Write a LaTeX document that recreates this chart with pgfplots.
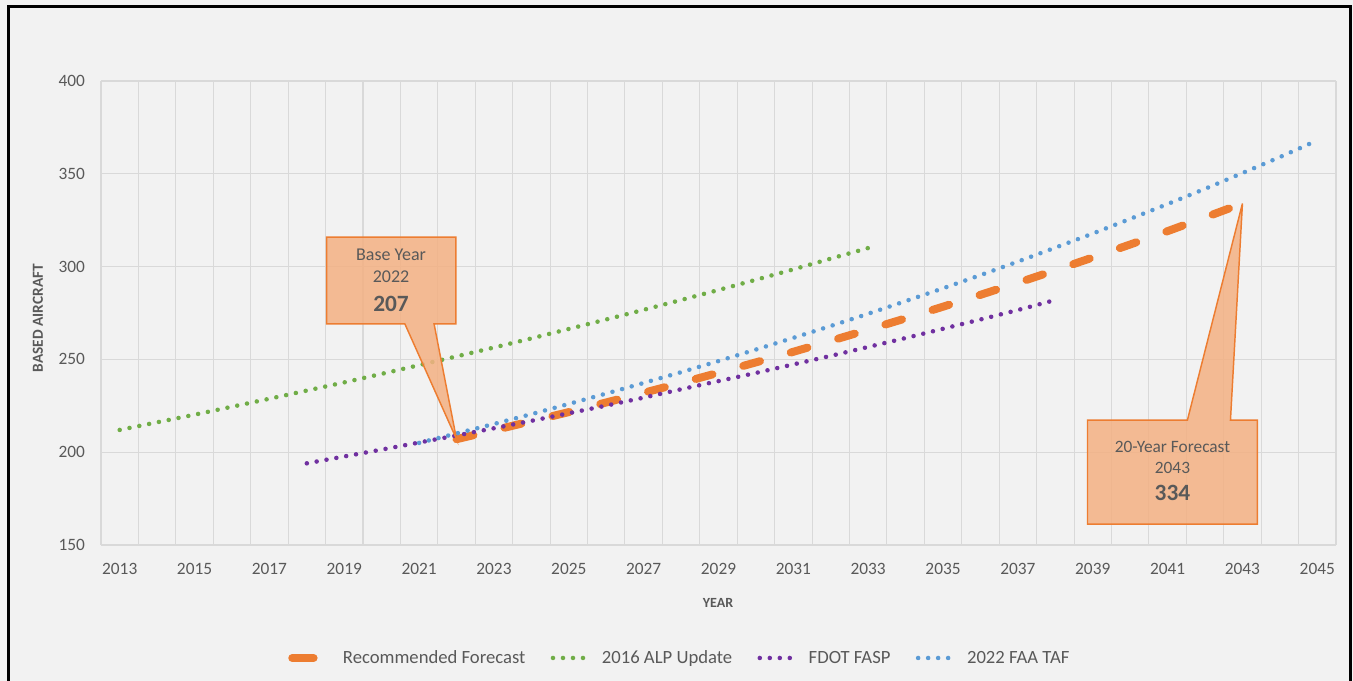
\documentclass[border=0pt]{standalone}
\usepackage{pgfplots}
\pgfplotsset{compat=1.18}
\usepackage{pgfplotstable}
\usepackage{fontspec}
\setmainfont{Carlito}
\definecolor{bgcol}{HTML}{F2F2F2}
\definecolor{gridcol}{HTML}{D9D9D9}
\definecolor{txtgray}{HTML}{595959}
\definecolor{corange}{HTML}{ED7D31}
\definecolor{cgreen}{HTML}{70AD47}
\definecolor{cpurple}{HTML}{7030A0}
\definecolor{cblue}{HTML}{5B9BD5}
\definecolor{calloutfill}{HTML}{F4B183}

\pgfplotstableread{
year val
2022 207.0
2023 211.8
2024 216.7
2025 221.6
2026 226.8
2027 232.0
2028 237.3
2029 242.8
2030 248.4
2031 254.1
2032 260.0
2033 266.0
2034 272.1
2035 278.4
2036 284.8
2037 291.3
2038 298.0
2039 304.9
2040 311.9
2041 319.1
2042 326.5
2043 334.0
}\recommended

\pgfplotstableread{
year val
2013 212.0
2014 216.1
2015 220.2
2016 224.5
2017 228.8
2018 233.2
2019 237.6
2020 242.2
2021 246.9
2022 251.6
2023 256.4
2024 261.3
2025 266.4
2026 271.5
2027 276.7
2028 282.0
2029 287.4
2030 292.9
2031 298.5
2032 304.3
2033 310.0
}\alp

\pgfplotstableread{
year val
2018 194.0
2019 197.7
2020 201.4
2021 205.2
2022 209.0
2023 212.9
2024 216.9
2025 221.0
2026 225.1
2027 229.4
2028 233.9
2029 238.3
2030 242.7
2031 247.3
2032 251.9
2033 256.7
2034 261.5
2035 266.5
2036 271.5
2037 276.6
2038 282.0
}\fdot

\pgfplotstableread{
year val
2021 205.0
2022 210.1
2023 215.2
2024 220.5
2025 226.0
2026 231.6
2027 237.3
2028 243.1
2029 249.1
2030 255.3
2031 261.6
2032 268.0
2033 274.6
2034 281.4
2035 288.3
2036 295.4
2037 302.7
2038 310.2
2039 317.8
2040 325.7
2041 333.7
2042 341.9
2043 350.4
2044 359.0
2045 368.0
}\taf

\begin{document}
\begin{tikzpicture}[x=0.75pt,y=0.75pt]
\useasboundingbox (0,0) rectangle (1353,681);
\fill[bgcol] (0,0) rectangle (1353,681);
\begin{axis}[
  at={(75.75pt,102pt)}, anchor=south west,
  scale only axis, width=926.25pt, height=348pt,
  xmin=2012.5, xmax=2045.5, ymin=150, ymax=400,
  axis line style={draw=none},
  xtick={2013,2015,2017,2019,2021,2023,2025,2027,2029,2031,2033,2035,2037,2039,2041,2043,2045},
  minor xtick={2012.5,2013.5,2014.5,2015.5,2016.5,2017.5,2018.5,2019.5,2020.5,2021.5,2022.5,2023.5,2024.5,2025.5,2026.5,2027.5,2028.5,2029.5,2030.5,2031.5,2032.5,2033.5,2034.5,2035.5,2036.5,2037.5,2038.5,2039.5,2040.5,2041.5,2042.5,2043.5,2044.5,2045.5},
  ytick={150,200,250,300,350,400},
  xmajorgrids=false, xminorgrids=true, ymajorgrids=true,
  grid style={gridcol, line width=0.8pt},
  minor grid style={gridcol, line width=0.8pt},
  major tick length=0pt, minor tick length=0pt,
  /pgf/number format/1000 sep={},
  /pgf/number format/assume math mode=true,
  tick label style={font=\fontsize{13}{15}\selectfont, text=txtgray},
  xticklabel style={yshift=-10pt},
  yticklabel style={xshift=-8.5pt},
  xlabel={YEAR}, ylabel={BASED AIRCRAFT},
  xlabel style={font=\fontsize{10.5}{12}\selectfont\bfseries, text=txtgray, at={(axis description cs:0.4996,-0.125)}, anchor=center},
  ylabel style={font=\fontsize{11.5}{12}\selectfont\bfseries, text=txtgray, at={(axis description cs:-0.051,0.489)}, anchor=center, rotate=0},
  clip=false,
  legend columns=4,
  legend style={at={(axis description cs:0.469,-0.2435)}, anchor=center,
    draw=none, fill=none, font=\fontsize{14}{16}\selectfont, text=txtgray,
    /tikz/every odd column/.append style={column sep=9pt},
    /tikz/every even column/.append style={column sep=17pt}},
  legend image code/.code={\draw[#1] (0pt,0pt) -- (24pt,0pt);},
]
\addplot[corange, line width=6pt, line cap=round, dash pattern=on 13pt off 24pt,
  legend image post style={dash pattern=on 16pt off 30pt, xshift=2pt}] table[x=year,y=val] {\recommended};
\addlegendentry{Recommended Forecast}
\addplot[cgreen, line width=3.4pt, line cap=round, dash pattern=on 0pt off 7.5pt] table[x=year,y=val] {\alp};
\addlegendentry{2016 ALP Update}
\addplot[cpurple, line width=3.4pt, line cap=round, dash pattern=on 0pt off 7.5pt] table[x=year,y=val] {\fdot};
\addlegendentry{FDOT FASP}
\addplot[cblue, line width=3.4pt, line cap=round, dash pattern=on 0pt off 7.5pt] table[x=year,y=val] {\taf};
\addlegendentry{2022 FAA TAF}

% callout 1
\draw[corange, line width=1.1pt, fill=calloutfill, fill opacity=0.85, line join=miter]
  (axis cs:2018.53,315.9) -- (axis cs:2021.98,315.9) -- (axis cs:2021.98,269.1)
  -- (axis cs:2021.40,269.1) -- (axis cs:2022,207) -- (axis cs:2020.62,269.1)
  -- (axis cs:2018.53,269.1) -- cycle;
\node[text=txtgray, font=\fontsize{13.5}{15}\selectfont] at (axis cs:2020.25,306.3) {Base Year};
\node[text=txtgray, font=\fontsize{13.5}{15}\selectfont] at (axis cs:2020.25,294.4) {2022};
\node[text=txtgray, font=\fontsize{17.5}{19}\selectfont\bfseries] at (axis cs:2020.25,279.8) {207};
% callout 2
\draw[corange, line width=1.1pt, fill=calloutfill, fill opacity=0.85, line join=miter]
  (axis cs:2038.86,161.3) -- (axis cs:2038.86,217.3) -- (axis cs:2041.53,217.3)
  -- (axis cs:2043,334) -- (axis cs:2042.68,217.3) -- (axis cs:2043.40,217.3)
  -- (axis cs:2043.40,161.3) -- cycle;
\node[text=txtgray, font=\fontsize{13}{15}\selectfont] at (axis cs:2041.13,202.8) {20-Year Forecast};
\node[text=txtgray, font=\fontsize{13}{15}\selectfont] at (axis cs:2041.13,191.5) {2043};
\node[text=txtgray, font=\fontsize{17.5}{19}\selectfont\bfseries] at (axis cs:2041.13,178.0) {334};
\end{axis}
\draw[black, line width=2.25pt] (8,0) -- (8,674.5) -- (1350,674.5) -- (1350,0);
\end{tikzpicture}
\end{document}
